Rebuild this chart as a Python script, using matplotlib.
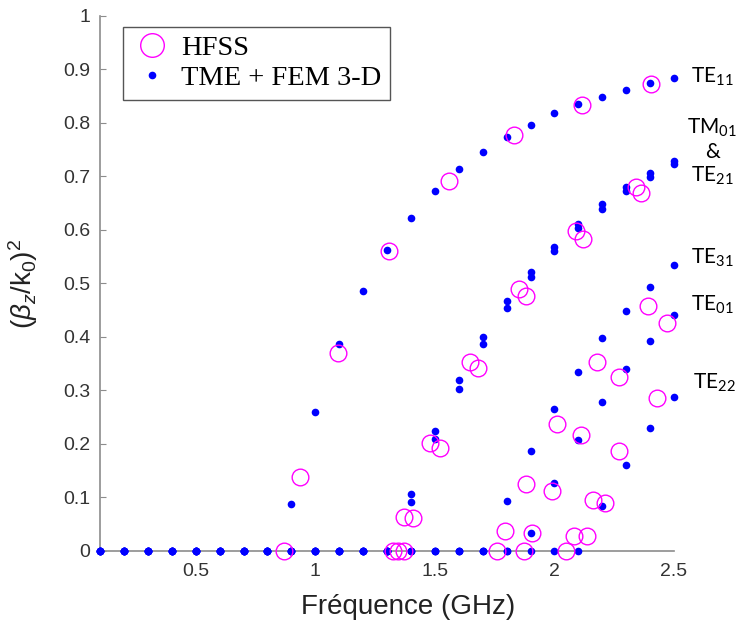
import matplotlib
matplotlib.use("Agg")
import matplotlib.pyplot as plt
from matplotlib.lines import Line2D

# TME + FEM 3-D (one value per frequency, 0 below cutoff)
freq = [0.1, 0.2, 0.3, 0.4, 0.5, 0.6, 0.7, 0.8, 0.9, 1.0, 1.1, 1.2, 1.3,
        1.4, 1.5, 1.6, 1.7, 1.8, 1.9, 2.0, 2.1, 2.2, 2.3, 2.4, 2.5]
te11 = [0, 0, 0, 0, 0, 0, 0, 0, 0.088, 0.26, 0.387, 0.486, 0.562,
        0.623, 0.673, 0.714, 0.746, 0.774, 0.797, 0.818, 0.835, 0.849, 0.862, 0.875, 0.884]
tm01 = [0, 0, 0, 0, 0, 0, 0, 0, 0, 0, 0, 0, 0,
        0.107, 0.224, 0.320, 0.400, 0.467, 0.521, 0.568, 0.612, 0.648, 0.680, 0.706, 0.729]
te21 = [0, 0, 0, 0, 0, 0, 0, 0, 0, 0, 0, 0, 0,
        0.092, 0.209, 0.303, 0.387, 0.454, 0.512, 0.560, 0.603, 0.640, 0.672, 0.699, 0.724]
te31 = [0, 0, 0, 0, 0, 0, 0, 0, 0, 0, 0, 0, 0,
        0, 0, 0, 0, 0.094, 0.187, 0.265, 0.335, 0.398, 0.449, 0.494, 0.535]
te01 = [0, 0, 0, 0, 0, 0, 0, 0, 0, 0, 0, 0, 0,
        0, 0, 0, 0, 0, 0.034, 0.127, 0.207, 0.278, 0.340, 0.392, 0.441]
te22 = [0, 0, 0, 0, 0, 0, 0, 0, 0, 0, 0, 0, 0,
        0, 0, 0, 0, 0, 0, 0, 0, 0.084, 0.161, 0.230, 0.288]

# HFSS points (frequency, value)
hfss_f = [0.87, 0.937, 1.096, 1.309, 1.56, 1.832, 2.117, 2.405,
          1.325, 1.345, 1.37, 1.37, 1.41, 1.48, 1.52, 1.648, 1.682, 1.853, 1.883,
          2.09, 2.12, 2.343, 2.36,
          1.76, 1.795, 1.874, 1.907, 2.05, 2.083, 2.137,
          1.88, 1.99, 2.16, 2.21, 2.01, 2.11, 2.27,
          2.18, 2.27, 2.43, 2.39, 2.47]
hfss_y = [0, 0.138, 0.37, 0.561, 0.692, 0.778, 0.834, 0.873,
          0, 0, 0, 0.064, 0.061, 0.202, 0.193, 0.353, 0.342, 0.49, 0.477,
          0.598, 0.584, 0.68, 0.669,
          0, 0.037, 0, 0.034, 0, 0.028, 0.028,
          0.125, 0.113, 0.095, 0.09, 0.237, 0.217, 0.187,
          0.353, 0.325, 0.286, 0.458, 0.427]

xticks = [0.5, 1, 1.5, 2, 2.5]
xtick_labels = ["0.5", "1", "1.5", "2", "2.5"]
yticks = [0, 0.1, 0.2, 0.3, 0.4, 0.5, 0.6, 0.7, 0.8, 0.9, 1]
ytick_labels = ["0", "0.1", "0.2", "0.3", "0.4", "0.5", "0.6", "0.7", "0.8", "0.9", "1"]

# mode labels on the right: (text, x, y)
mode_labels = [
    ("TE$\\mathregular{_{11}}$", 2.57, 0.886),
    ("TE$\\mathregular{_{31}}$", 2.57, 0.548),
    ("TE$\\mathregular{_{01}}$", 2.57, 0.46),
    ("TE$\\mathregular{_{22}}$", 2.58, 0.314),
]

plt.rcParams['mathtext.fontset'] = 'custom'
plt.rcParams['mathtext.rm'] = 'Liberation Sans'
plt.rcParams['mathtext.it'] = 'Liberation Sans:italic'

fig = plt.figure(figsize=(7.51, 6.2), dpi=100)
ax = fig.add_axes([0.1332, 0.1113, 0.7643, 0.8629])

blue = '#0000ff'
mag = '#ff00ff'
grey = '#8c8c8c'

for series in (te11, tm01, te21, te31, te01, te22):
    ax.plot(freq, series, linestyle='none', marker='o', markersize=5.5,
            color=blue, markeredgewidth=0, clip_on=False, zorder=3)
ax.plot(hfss_f, hfss_y, linestyle='none', marker='o', markersize=12,
        markerfacecolor='none', markeredgecolor=mag, markeredgewidth=1.0,
        clip_on=False, zorder=4)

ax.set_xlim(0.1, 2.5)
ax.set_ylim(0, 1)
ax.set_xticks(xticks)
ax.set_xticklabels(xtick_labels)
ax.set_yticks(yticks)
ax.set_yticklabels(ytick_labels)

for side in ('top', 'right'):
    ax.spines[side].set_visible(False)
for side in ('left', 'bottom'):
    ax.spines[side].set_color(grey)
    ax.spines[side].set_linewidth(1.2)
ax.tick_params(direction='in', length=4, color=grey, labelcolor='#333333',
               labelsize=14, labelfontfamily='Liberation Sans')
ax.tick_params(axis='x', pad=9, length=0)
ax.tick_params(axis='y', pad=7)

ax.set_xlabel("Fréquence (GHz)", fontsize=20, family='Liberation Sans', color='#222222')
ax.xaxis.set_label_coords(0.537, -0.08)
ax.set_ylabel("$(\\beta_z/\\mathrm{k}_0)^2$", fontsize=20, color='#222222')
ax.yaxis.set_label_coords(-0.105, 0.5)

for txt, x, y in mode_labels:
    ax.text(x, y, txt, fontsize=15, family='Lato', va='center', ha='left', clip_on=False)
ax.text(2.66, 0.746, "TM$\\mathregular{_{01}}$\n&\nTE$\\mathregular{_{21}}$",
        fontsize=15, family='Lato', va='center', ha='center', multialignment='center',
        linespacing=1.15, clip_on=False)

handles = [
    Line2D([], [], linestyle='none', marker='o', markersize=17, markerfacecolor='none',
           markeredgecolor=mag, markeredgewidth=1.0, label='HFSS'),
    Line2D([], [], linestyle='none', marker='o', markersize=5.5, color=blue,
           markeredgewidth=0, label='TME + FEM 3-D'),
]
leg = ax.legend(handles=handles, loc='upper left', bbox_to_anchor=(0.04, 0.98),
                prop={'family': 'Liberation Serif', 'size': 20.5}, fancybox=False,
                framealpha=1, edgecolor='#555555', borderpad=0.3, labelspacing=0.15,
                handletextpad=0.3, handlelength=1.45, borderaxespad=0)
leg.get_frame().set_linewidth(1.0)

fig.savefig("out.png", dpi=100, facecolor='white')
